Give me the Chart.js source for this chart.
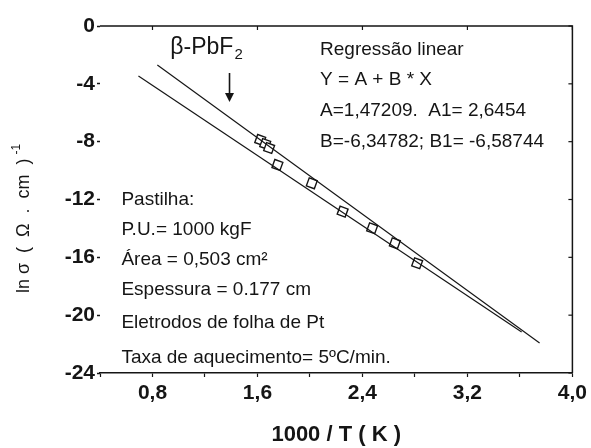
<!DOCTYPE html>
<html><head><meta charset="utf-8">
<script src="https://cdn.jsdelivr.net/npm/chart.js@4/dist/chart.umd.min.js"></script>
<style>html,body{margin:0;padding:0;background:#fff}</style>
</head><body>
<canvas id="c" width="591" height="448"></canvas>
<script>
// ---- data ----
const xTickValues = [0.4, 0.8, 1.2, 1.6, 2.0, 2.4, 2.8, 3.2, 3.6, 4.0];
const xTickLabels = ['', '0,8', '', '1,6', '', '2,4', '', '3,2', '', '4,0'];
const yTickValues = [-24, -20, -16, -12, -8, -4, 0];
const yTickLabels = ['-24', '-20', '-16', '-12', '-8', '-4', '0'];
const pointsX = [1.621, 1.659, 1.689, 1.752, 2.014, 2.249, 2.474, 2.647, 2.817];
const pointsY = [-7.88, -8.16, -8.44, -9.61, -10.88, -12.84, -13.99, -15.03, -16.41];
const fitAX = [0.693, 3.613];
const fitAY = [-3.46, -21.17];
const fitBX = [0.837, 3.750];
const fitBY = [-2.70, -21.92];
const regressionText = ['Regressão linear', 'Y = A + B * X', 'A=1,47209.  A1= 2,6454', 'B=-6,34782; B1= -6,58744'];
const sampleText = ['Pastilha:', 'P.U.= 1000 kgF', 'Área = 0,503 cm²', 'Espessura = 0.177 cm', 'Eletrodos de folha de Pt', 'Taxa de aquecimento= 5ºC/min.'];
const phaseLabel = 'β-PbF';
const phaseSub = '2';
const xTitle = '1000 / T ( K )';
const yTitleMain = 'ln σ  (  Ω  .  cm  )';
const yTitleSup = '-1';

// ---- layout (data-unit anchors for annotations) ----
const regAnchorX = 2.077, regAnchorY = [-1.61, -3.73, -5.88, -8.0];
const sampleAnchorX = 0.563, sampleAnchorY = [-12.03, -14.06, -16.18, -18.26, -20.56, -22.96];
const phaseAnchor = {x: 0.936, y: -1.52};
const arrowAnchor = {x: 1.387, y0: -3.25, y1: -5.26};

const ink = '#151515';
const FAM = '"Liberation Sans", Arial, Helvetica, sans-serif';

const toPts = (xs, ys) => xs.map((x, i) => ({x: x, y: ys[i]}));

const decorPlugin = {
  id: 'decor',
  afterDraw(chart) {
    const {ctx, chartArea: a, scales: {x, y}} = chart;
    ctx.save();
    ctx.strokeStyle = ink; ctx.fillStyle = ink;
    // top and right frame
    ctx.lineWidth = 1.5;
    ctx.beginPath();
    ctx.moveTo(a.left, a.top); ctx.lineTo(a.right, a.top); ctx.lineTo(a.right, a.bottom);
    ctx.stroke();
    // inward ticks on top and right
    ctx.lineWidth = 1.2;
    xTickValues.forEach((v, i) => {
      if (!xTickLabels[i]) return;
      const px = x.getPixelForValue(v);
      ctx.beginPath(); ctx.moveTo(px, a.top); ctx.lineTo(px, a.top + 4); ctx.stroke();
    });
    yTickValues.forEach(v => {
      const py = y.getPixelForValue(v);
      ctx.beginPath(); ctx.moveTo(a.right, py); ctx.lineTo(a.right - 4, py); ctx.stroke();
    });
    // annotation texts
    ctx.textBaseline = 'middle'; ctx.textAlign = 'left';
    ctx.font = '19px ' + FAM;
    regressionText.forEach((t, i) => ctx.fillText(t, x.getPixelForValue(regAnchorX), y.getPixelForValue(regAnchorY[i])));
    sampleText.forEach((t, i) => ctx.fillText(t, x.getPixelForValue(sampleAnchorX), y.getPixelForValue(sampleAnchorY[i])));
    // phase label with subscript
    ctx.font = '23px ' + FAM;
    const px0 = x.getPixelForValue(phaseAnchor.x), py0 = y.getPixelForValue(phaseAnchor.y);
    ctx.fillText(phaseLabel, px0, py0);
    const w = ctx.measureText(phaseLabel).width;
    ctx.font = '15px ' + FAM;
    ctx.fillText(phaseSub, px0 + w + 1, py0 + 7);
    // arrow
    const ax = x.getPixelForValue(arrowAnchor.x), ay0 = y.getPixelForValue(arrowAnchor.y0), ay1 = y.getPixelForValue(arrowAnchor.y1);
    ctx.lineWidth = 1.6;
    ctx.beginPath(); ctx.moveTo(ax, ay0); ctx.lineTo(ax, ay1 - 7); ctx.stroke();
    ctx.beginPath(); ctx.moveTo(ax - 4.5, ay1 - 9); ctx.lineTo(ax + 4.5, ay1 - 9); ctx.lineTo(ax, ay1); ctx.closePath(); ctx.fill();
    // y-axis title (rotated, with superscript)
    ctx.translate(24, (a.top + a.bottom) / 2 + 19);
    ctx.rotate(-Math.PI / 2);
    ctx.font = '18px ' + FAM;
    const mw = ctx.measureText(yTitleMain).width;
    ctx.font = '12px ' + FAM;
    const sw = ctx.measureText(yTitleSup).width;
    const total = mw + 4 + sw;
    ctx.font = '18px ' + FAM;
    ctx.fillText(yTitleMain, -total / 2, 0);
    ctx.font = '12px ' + FAM;
    ctx.fillText(yTitleSup, -total / 2 + mw + 4, -7);
    ctx.restore();
  }
};

new Chart(document.getElementById('c'), {
  type: 'scatter',
  data: {
    datasets: [
      {data: toPts(fitAX, fitAY), showLine: true, borderColor: ink, borderWidth: 1.2, pointRadius: 0, fill: false},
      {data: toPts(fitBX, fitBY), showLine: true, borderColor: ink, borderWidth: 1.2, pointRadius: 0, fill: false},
      {data: toPts(pointsX, pointsY), showLine: false, pointStyle: 'rect', pointRadius: 6, pointRotation: 20,
       pointBorderColor: ink, pointBackgroundColor: '#fff', pointBorderWidth: 1.4}
    ]
  },
  options: {
    responsive: false, animation: false, devicePixelRatio: 1,
    layout: {padding: {top: 26, right: 16, left: 0, bottom: 0}},
    plugins: {legend: {display: false}, tooltip: {enabled: false}},
    scales: {
      x: {
        type: 'linear', min: 0.4, max: 4.0,
        afterBuildTicks: s => { s.ticks = xTickValues.map(v => ({value: v})); },
        afterFit: s => { s.height = 75; },
        ticks: {autoSkip: false, maxRotation: 0, padding: 4, color: ink,
                callback: (v, i) => xTickLabels[i],
                font: {family: FAM, size: 21, weight: 'bold'}},
        grid: {display: true, drawOnChartArea: false, drawTicks: true, tickLength: 4, color: ink, tickWidth: 1.2},
        border: {display: true, color: ink, width: 1.5},
        title: {display: true, text: xTitle, color: ink, padding: {top: 0, bottom: 2},
                font: {family: FAM, size: 22, weight: 'bold', lineHeight: 1}}
      },
      y: {
        type: 'linear', min: -24, max: 0,
        afterBuildTicks: s => { s.ticks = yTickValues.map(v => ({value: v})); },
        afterFit: s => { s.width = 100; },
        ticks: {autoSkip: false, padding: 2, color: ink,
                callback: (v, i) => yTickLabels[i],
                font: {family: FAM, size: 21, weight: 'bold'}},
        grid: {display: true, drawOnChartArea: false, drawTicks: true, tickLength: 3, color: ink, tickWidth: 1.5},
        border: {display: false}
      }
    }
  },
  plugins: [decorPlugin]
});
</script>
</body></html>
